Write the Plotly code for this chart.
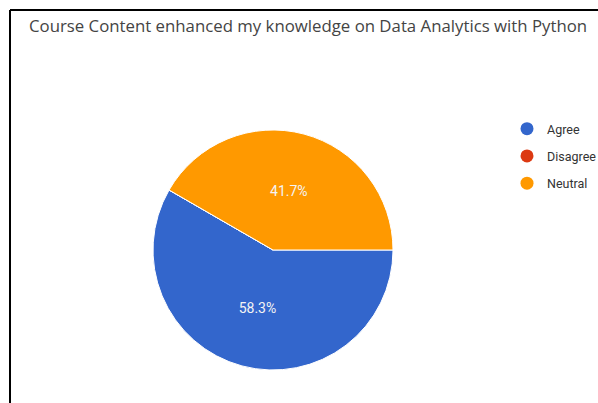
import plotly.graph_objects as go

title_text = "Course Content enhanced my knowledge on Data Analytics with Python"
labels = ["Agree", "Disagree", "Neutral"]
values = [7, 0, 5]
colors = ["#3366cc", "#dc3912", "#ff9900"]

W, H = 598, 403


def px(x):
    return x / W


def py(y):
    return 1 - y / H


R = 120
CX, CY = 273, 250

fig = go.Figure()
fig.add_trace(go.Pie(
    labels=labels, values=values,
    marker=dict(colors=colors, line=dict(color="white", width=1)),
    sort=False, direction="clockwise", rotation=90,
    textinfo="percent", texttemplate="%{percent:.1%}",
    textposition="inside", insidetextorientation="horizontal",
    textfont=dict(family="Roboto", size=14, color="#f4f4f4"),
    domain=dict(x=[px(CX - R), px(CX + R)], y=[py(CY + R), py(CY - R)]),
    showlegend=False, hoverinfo="label+percent",
))

for lab, col in zip(labels, colors):
    fig.add_trace(go.Scatter(
        x=[None], y=[None], mode="markers", name=lab,
        marker=dict(color=col, size=13, symbol="circle"),
        legendgroup=lab, showlegend=True,
    ))

fig.update_layout(
    width=W, height=H,
    margin=dict(l=0, r=0, t=0, b=0, autoexpand=False),
    paper_bgcolor="white", plot_bgcolor="white",
    xaxis=dict(visible=False), yaxis=dict(visible=False),
    title=dict(text=title_text, x=px(29), xanchor="left", y=py(26), yanchor="middle",
               font=dict(family="Open Sans", size=16.8, color="#444444")),
    legend=dict(x=px(507), xanchor="left", y=py(114), yanchor="top",
                font=dict(family="Roboto", size=12.5, color="#333333"),
                tracegroupgap=8, traceorder="grouped", bgcolor="rgba(0,0,0,0)"),
    shapes=[
        dict(type="line", xref="paper", yref="paper", x0=px(10), x1=1.05, y0=py(10), y1=py(10),
             line=dict(color="black", width=2)),
        dict(type="line", xref="paper", yref="paper", x0=px(10), x1=px(10), y0=py(10), y1=-0.05,
             line=dict(color="black", width=2)),
    ],
)

fig.write_html(
    "out.html",
    config={"displayModeBar": False},
    post_script="document.body.style.margin='0';document.body.style.overflow='hidden';",
)
